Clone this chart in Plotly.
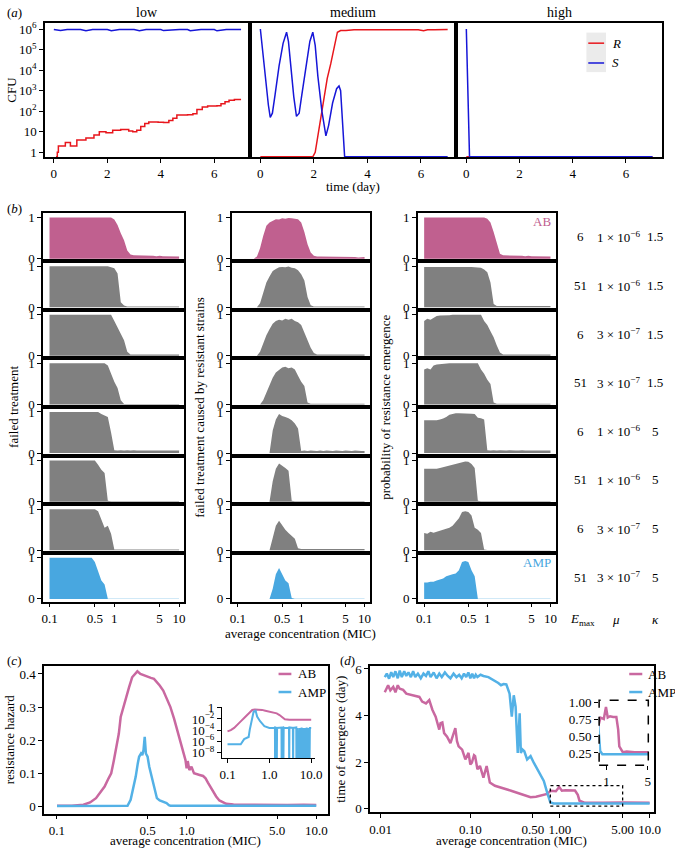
import plotly.graph_objects as go

# ============================ DATA ============================
# (a) CFU time courses, time in days (0 CFU drawn on the floor of the log axis)
LOW_R_T = [0.08, 0.13, 0.17, 0.43, 0.62, 0.86, 1.2, 1.5, 1.7, 1.95, 2.2, 2.5, 2.8, 2.95, 3.1, 3.25, 3.4, 3.55, 3.9, 4.1,
           4.3, 4.45, 4.6, 5.0, 5.2, 5.35, 5.55, 5.75, 6.1, 6.25, 6.4, 6.55, 6.75, 7.0]
LOW_R = [0, 1, 2, 3, 2, 4, 5, 7, 10, 9, 12, 13, 11, 10, 12, 18, 25, 30, 29, 28,
         35, 45, 65, 68, 75, 120, 160, 180, 185, 230, 290, 340, 370, 370]
LOW_S_T = [0, 0.25, 0.5, 0.75, 1.0, 1.2, 1.45, 1.7, 2.0, 2.15, 2.45, 2.7, 3.0, 3.2, 3.45, 3.7, 4.0, 4.1, 4.45,
           4.7, 5.0, 5.1, 5.5, 5.75, 6.0, 6.1, 6.45, 6.7, 7.0]
LOW_S = [9.5e5, 8.5e5, 9.5e5, 9.5e5, 9.5e5, 8.2e5, 9.5e5, 9.6e5, 9.5e5, 8.3e5, 9.5e5, 9.6e5, 9.4e5, 8.3e5, 9.5e5,
         9.6e5, 9.5e5, 8.4e5, 9.5e5, 9.6e5, 9.5e5, 8.3e5, 9.5e5, 9.6e5, 9.5e5, 8.2e5, 9.5e5, 9.5e5, 9.5e5]
MED_R_T = [0, 1.96, 2.05, 2.14, 2.27, 2.4, 2.5, 2.63, 2.75, 2.88, 3.0, 3.2, 3.5, 4.0, 5.0, 5.9, 6.1, 6.25, 6.5, 7.0]
MED_R = [0, 0, 1, 5, 70, 800, 4e3, 2e4, 1e5, 7e5, 8.5e5, 8.5e5, 9.3e5, 9.3e5, 9.3e5, 9.3e5, 8.3e5, 9.2e5, 9.3e5, 9.5e5]
MED_S_T = [0, 0.1, 0.2, 0.3, 0.37, 0.45, 0.55, 0.7, 0.85, 0.98, 1.05, 1.15, 1.25, 1.35, 1.45, 1.55, 1.7, 1.85,
           1.96, 2.05, 2.15, 2.3, 2.45, 2.55, 2.7, 2.85, 2.94, 3.0, 3.15, 7.0]
MED_S = [1e6, 5e4, 2.5e3, 200, 50, 80, 630, 1.6e4, 2e5, 7e5, 2.5e5, 1e4, 500, 56, 80, 630, 1.6e4, 2.5e5,
         7e5, 1.6e5, 5e3, 100, 6.3, 20, 250, 1.25e3, 1.7e3, 1e3, 0, 0]
HIGH_R_T = [0, 7.0]
HIGH_R = [0, 0]
HIGH_S_T = [0, 0.12, 7.0]
HIGH_S = [1e6, 0, 0]
CFU_TICKS = [1, 10, 100, 1e3, 1e4, 1e5, 1e6]
CFU_TICKTEXT = ["1", "10", "10<sup>2</sup>", "10<sup>3</sup>", "10<sup>4</sup>", "10<sup>5</sup>", "10<sup>6</sup>"]
DAY_TICKS = [0, 2, 4, 6]
DOSE_LEVELS = ["low", "medium", "high"]

# (b) average concentration (MIC) grid and per-scenario outcomes
CONC = [0.100, 0.112, 0.126, 0.141, 0.158, 0.178, 0.200, 0.224, 0.251, 0.282,
        0.316, 0.355, 0.398, 0.447, 0.501, 0.562, 0.631, 0.708, 0.794, 0.891,
        1.000, 1.122, 1.259, 1.413, 1.585, 1.778, 1.995, 2.239, 2.512, 2.818,
        3.162, 3.548, 3.981, 4.467, 5.012, 5.623, 6.310, 7.079, 7.943, 8.913,
        10.00]
# failed treatment
FT_1 = [1, 1, 1, 1, 1, 1, 1, 1, 1, 1, 1, 1, 1, 1, 1, 1, 1, 1, 1, 1,
        0.95, 0.82, 0.62, 0.45, 0.20, 0.10, 0.08, 0.08, 0.07, 0.08,
        0.07, 0.07, 0.07, 0.06, 0.07, 0.06, 0.06, 0.05, 0.06, 0.05, 0.05]
FT_2 = [1, 1, 1, 1, 1, 1, 1, 1, 1, 1, 1, 1, 1, 1, 1, 1, 1, 1, 1, 0.97,
        0.95, 0.82, 0.12, 0.04, 0.02, 0.02, 0.02, 0.02, 0.02, 0.02,
        0.02, 0.02, 0.02, 0.02, 0.02, 0.02, 0.02, 0.02, 0.02, 0.02, 0.02]
FT_3 = [1, 1, 1, 1, 1, 1, 1, 1, 1, 1, 1, 1, 1, 1, 1, 1, 1, 1, 1, 1,
        0.85, 0.70, 0.55, 0.38, 0.10, 0.03, 0.03, 0.03, 0.03, 0.03,
        0.03, 0.03, 0.03, 0.03, 0.03, 0.03, 0.03, 0.03, 0.03, 0.03, 0.03]
FT_4 = [1, 1, 1, 1, 1, 1, 1, 1, 1, 1, 1, 1, 1, 1, 1, 1, 1, 1, 0.95, 0.75,
        0.55, 0.40, 0.10, 0.01, 0.01, 0.01, 0.01, 0.01, 0.01, 0.01,
        0.01, 0.01, 0.01, 0.01, 0.01, 0.01, 0.01, 0.01, 0.01, 0.01, 0.01]
FT_5 = [1, 1, 1, 1, 1, 1, 1, 1, 1, 1, 1, 1, 1, 1, 1, 1, 0.95, 0.92, 0.88, 0.50,
        0.07, 0.06, 0.07, 0.06, 0.07, 0.06, 0.07, 0.06, 0.06, 0.07,
        0.06, 0.07, 0.06, 0.06, 0.07, 0.06, 0.06, 0.07, 0.06, 0.06, 0.06]
FT_6 = [1, 1, 1, 1, 1, 1, 1, 1, 1, 1, 1, 1, 1, 1, 1, 0.90, 0.78, 0.70, 0.02, 0.01,
        0.01, 0.01, 0.01, 0.01, 0.01, 0.01, 0.01, 0.01, 0.01, 0.01,
        0.01, 0.01, 0.01, 0.01, 0.01, 0.01, 0.01, 0.01, 0.01, 0.01, 0.01]
FT_7 = [1, 1, 1, 1, 1, 1, 1, 1, 1, 1, 1, 1, 1, 1, 1, 0.95, 0.75, 0.55, 0.60, 0.40,
        0.02, 0.02, 0.02, 0.02, 0.02, 0.02, 0.02, 0.02, 0.02, 0.02,
        0.02, 0.02, 0.02, 0.02, 0.02, 0.02, 0.02, 0.02, 0.02, 0.02, 0.02]
FT_8 = [1, 1, 1, 1, 1, 1, 1, 1, 1, 1, 1, 1, 1, 1, 0.90, 0.65, 0.45, 0.35, 0.005, 0.005,
        0.005, 0.005, 0.005, 0.005, 0.005, 0.005, 0.005, 0.005, 0.005, 0.005,
        0.005, 0.005, 0.005, 0.005, 0.005, 0.005, 0.005, 0.005, 0.005, 0.005, 0.005]
# failed treatment caused by resistant strains
RS_1 = [0, 0, 0, 0, 0, 0, 0.05, 0.25, 0.55, 0.80,
        0.88, 0.92, 0.96, 0.95, 0.98, 0.97, 0.99, 0.98, 0.97, 0.96,
        0.88, 0.65, 0.35, 0.15, 0.07, 0.05, 0.05, 0.05, 0.04, 0.05,
        0.04, 0.05, 0.04, 0.04, 0.05, 0.04, 0.04, 0.04, 0.03, 0.04, 0.04]
RS_2 = [0, 0, 0, 0, 0, 0, 0, 0.10, 0.35, 0.60,
        0.75, 0.88, 0.93, 0.97, 0.98, 0.97, 0.99, 0.96, 0.95, 0.90,
        0.80, 0.65, 0.25, 0.05, 0.02, 0.02, 0.02, 0.02, 0.02, 0.02,
        0.02, 0.02, 0.02, 0.02, 0.02, 0.02, 0.02, 0.02, 0.02, 0.02, 0.02]
RS_3 = [0, 0, 0, 0, 0, 0, 0, 0.10, 0.30, 0.50,
        0.65, 0.78, 0.85, 0.88, 0.86, 0.90, 0.88, 0.90, 0.85, 0.82,
        0.75, 0.55, 0.38, 0.20, 0.07, 0.03, 0.03, 0.03, 0.03, 0.03,
        0.03, 0.03, 0.03, 0.03, 0.03, 0.03, 0.03, 0.03, 0.03, 0.03, 0.03]
RS_4 = [0, 0, 0, 0, 0, 0, 0, 0, 0.10, 0.30,
        0.50, 0.65, 0.78, 0.85, 0.90, 0.92, 0.88, 0.90, 0.85, 0.70,
        0.55, 0.45, 0.05, 0.02, 0.02, 0.02, 0.02, 0.02, 0.02, 0.02,
        0.02, 0.02, 0.02, 0.02, 0.02, 0.02, 0.02, 0.02, 0.02, 0.02, 0.02]
RS_5 = [0, 0, 0, 0, 0, 0, 0, 0, 0, 0,
        0, 0.55, 0.82, 0.95, 0.90, 0.88, 0.85, 0.80, 0.72, 0.60,
        0.05, 0.06, 0.05, 0.06, 0.05, 0.05, 0.06, 0.05, 0.06, 0.05,
        0.05, 0.06, 0.05, 0.05, 0.06, 0.05, 0.05, 0.06, 0.05, 0.05, 0.05]
RS_6 = [0, 0, 0, 0, 0, 0, 0, 0, 0, 0,
        0, 0.50, 0.80, 0.93, 0.88, 0.82, 0.75, 0.02, 0.01, 0.01,
        0.01, 0.01, 0.01, 0.01, 0.01, 0.01, 0.01, 0.01, 0.01, 0.01,
        0.01, 0.01, 0.01, 0.01, 0.01, 0.01, 0.01, 0.01, 0.01, 0.01, 0.01]
RS_7 = [0, 0, 0, 0, 0, 0, 0, 0, 0, 0,
        0, 0.30, 0.60, 0.72, 0.60, 0.50, 0.42, 0.35, 0.28, 0.05,
        0.03, 0.03, 0.03, 0.03, 0.03, 0.03, 0.03, 0.03, 0.03, 0.03,
        0.03, 0.03, 0.03, 0.03, 0.03, 0.03, 0.03, 0.03, 0.03, 0.03, 0.03]
RS_8 = [0, 0, 0, 0, 0, 0, 0, 0, 0, 0,
        0, 0.25, 0.60, 0.75, 0.60, 0.45, 0.38, 0.02, 0.005, 0.005,
        0.005, 0.005, 0.005, 0.005, 0.005, 0.005, 0.005, 0.005, 0.005, 0.005,
        0.005, 0.005, 0.005, 0.005, 0.005, 0.005, 0.005, 0.005, 0.005, 0.005, 0.005]
# probability of resistance emergence
PE_1 = [1, 1, 1, 1, 1, 1, 1, 1, 1, 1, 1, 1, 1, 1, 1, 1, 1, 1, 1, 1,
        0.97, 0.88, 0.65, 0.40, 0.12, 0.08, 0.08, 0.07, 0.08, 0.07,
        0.07, 0.07, 0.06, 0.07, 0.06, 0.06, 0.06, 0.05, 0.06, 0.05, 0.05]
PE_2 = [0.98, 0.98, 0.99, 0.98, 0.98, 0.99, 0.98, 0.98, 0.99, 0.98,
        0.98, 0.99, 0.98, 0.98, 0.99, 0.98, 0.97, 0.97, 0.96, 0.92,
        0.85, 0.60, 0.08, 0.03, 0.03, 0.03, 0.03, 0.03, 0.03, 0.03,
        0.03, 0.03, 0.03, 0.03, 0.03, 0.03, 0.03, 0.03, 0.03, 0.03, 0.03]
PE_3 = [0.85, 0.90, 0.88, 0.92, 0.97, 0.98, 0.98, 0.99, 0.99, 1.0,
        1.0, 1.0, 1.0, 1.0, 1.0, 1.0, 1.0, 1.0, 1.0, 0.85,
        0.75, 0.60, 0.45, 0.25, 0.08, 0.03, 0.03, 0.03, 0.03, 0.03,
        0.03, 0.03, 0.03, 0.03, 0.03, 0.03, 0.03, 0.03, 0.03, 0.03, 0.03]
PE_4 = [0.85, 0.88, 0.85, 0.95, 0.97, 0.98, 0.99, 0.99, 1.0, 1.0,
        1.0, 1.0, 1.0, 1.0, 1.0, 1.0, 1.0, 1.0, 0.85, 0.75,
        0.60, 0.50, 0.05, 0.02, 0.02, 0.02, 0.02, 0.02, 0.02, 0.02,
        0.02, 0.02, 0.02, 0.02, 0.02, 0.02, 0.02, 0.02, 0.02, 0.02, 0.02]
PE_5 = [0.80, 0.80, 0.81, 0.80, 0.80, 0.82, 0.84, 0.88, 0.93, 0.95,
        0.97, 0.97, 0.97, 0.97, 0.97, 0.96, 0.95, 0.86, 0.85, 0.82,
        0.07, 0.06, 0.07, 0.06, 0.07, 0.06, 0.06, 0.07, 0.06, 0.06,
        0.06, 0.07, 0.06, 0.06, 0.06, 0.07, 0.06, 0.06, 0.07, 0.06, 0.06]
PE_6 = [0.80, 0.80, 0.81, 0.80, 0.80, 0.82, 0.84, 0.86, 0.88, 0.90,
        0.93, 0.95, 0.97, 0.98, 0.97, 0.92, 0.82, 0.02, 0.01, 0.01,
        0.01, 0.01, 0.01, 0.01, 0.01, 0.01, 0.01, 0.01, 0.01, 0.01,
        0.01, 0.01, 0.01, 0.01, 0.01, 0.01, 0.01, 0.01, 0.01, 0.01, 0.01]
PE_7 = [0.42, 0.40, 0.45, 0.43, 0.45, 0.48, 0.50, 0.52, 0.55, 0.60,
        0.70, 0.78, 0.93, 0.95, 0.93, 0.85, 0.55, 0.50, 0.42, 0.02,
        0.01, 0.01, 0.01, 0.01, 0.01, 0.01, 0.01, 0.01, 0.01, 0.01,
        0.01, 0.01, 0.01, 0.01, 0.01, 0.01, 0.01, 0.01, 0.01, 0.01, 0.01]
PE_8 = [0.40, 0.40, 0.42, 0.42, 0.45, 0.48, 0.50, 0.55, 0.58, 0.60,
        0.62, 0.70, 0.90, 0.92, 0.90, 0.70, 0.55, 0.005, 0.005, 0.005,
        0.005, 0.005, 0.005, 0.005, 0.005, 0.005, 0.005, 0.005, 0.005, 0.005,
        0.005, 0.005, 0.005, 0.005, 0.005, 0.005, 0.005, 0.005, 0.005, 0.005, 0.005]
FT_ROWS = [FT_1, FT_2, FT_3, FT_4, FT_5, FT_6, FT_7, FT_8]
RS_ROWS = [RS_1, RS_2, RS_3, RS_4, RS_5, RS_6, RS_7, RS_8]
PE_ROWS = [PE_1, PE_2, PE_3, PE_4, PE_5, PE_6, PE_7, PE_8]
B_YTITLES = ["failed treatment", "failed treatment caused by resistant strains", "probability of resistance emergence"]
E_MAX = ["6", "51", "6", "51", "6", "51", "6", "51"]
MU = ["1 × 10<sup>−6</sup>", "1 × 10<sup>−6</sup>", "3 × 10<sup>−7</sup>", "3 × 10<sup>−7</sup>",
      "1 × 10<sup>−6</sup>", "1 × 10<sup>−6</sup>", "3 × 10<sup>−7</sup>", "3 × 10<sup>−7</sup>"]
KAPPA = ["1.5", "1.5", "1.5", "1.5", "5", "5", "5", "5"]
B_XTICKS = [0.1, 0.5, 1, 5, 10]
B_XTICKTEXT = ["0.1", "0.5", "1", "5", "10"]

# (c) resistance hazard
C_AB_X = [0.1, 0.13, 0.16, 0.18, 0.2, 0.22, 0.233, 0.25, 0.262, 0.275, 0.285, 0.3, 0.31, 0.33, 0.345, 0.36, 0.38,
          0.4, 0.417, 0.44, 0.47, 0.5, 0.53, 0.56, 0.59, 0.62, 0.66, 0.7, 0.75, 0.8, 0.84, 0.9, 0.94, 0.98, 1.0,
          1.02, 1.05, 1.09, 1.14, 1.19, 1.26, 1.34, 1.4, 1.46, 1.52, 1.59, 1.69, 1.79, 1.9, 2.02, 2.3, 3.0, 4.0,
          5.0, 6.0, 8.0, 10.0]
C_AB_Y = [0.002, 0.002, 0.005, 0.012, 0.025, 0.045, 0.06, 0.085, 0.1, 0.14, 0.17, 0.22, 0.27, 0.31, 0.33, 0.36,
          0.39, 0.4, 0.408, 0.4, 0.395, 0.39, 0.388, 0.385, 0.375, 0.365, 0.35, 0.325, 0.3, 0.265, 0.235, 0.2,
          0.17, 0.14, 0.115, 0.137, 0.11, 0.12, 0.1, 0.097, 0.095, 0.092, 0.085, 0.072, 0.06, 0.045, 0.03, 0.018,
          0.012, 0.008, 0.006, 0.005, 0.005, 0.005, 0.004, 0.005, 0.004]
C_AMP_X = [0.1, 0.2, 0.3, 0.35, 0.37, 0.39, 0.405, 0.42, 0.43, 0.445, 0.455, 0.465, 0.475, 0.485, 0.5, 0.515,
           0.53, 0.545, 0.56, 0.575, 0.59, 0.62, 0.66, 0.7, 0.73, 0.75, 1.0, 2.0, 5.0, 10.0]
C_AMP_Y = [0.001, 0.001, 0.001, 0.002, 0.02, 0.06, 0.09, 0.13, 0.15, 0.16, 0.155, 0.17, 0.21, 0.16, 0.15, 0.12,
           0.1, 0.08, 0.06, 0.04, 0.025, 0.018, 0.015, 0.01, 0.004, 0.002, 0.002, 0.002, 0.002, 0.002]
C_INSET_AB_X = [0.1, 0.12, 0.144, 0.17, 0.207, 0.25, 0.295, 0.34, 0.39, 0.45, 0.51, 0.6, 0.67, 0.8, 1.05, 1.25,
                1.5, 1.75, 1.97, 2.35, 3.0, 4.0, 5.0, 7.0, 10.0]
C_INSET_AB_Y = [6e-5, 1e-4, 2.5e-4, 1e-3, 3.7e-3, 1.5e-2, 5.4e-2, 0.16, 0.4, 0.5, 0.5, 0.47, 0.42, 0.3, 0.2,
                0.15, 0.1, 0.05, 0.027, 9e-3, 7e-3, 7e-3, 6.3e-3, 7e-3, 7e-3]
C_INSET_AMP_X = [0.1, 0.15, 0.207, 0.25, 0.295, 0.32, 0.34, 0.39, 0.42, 0.47, 0.51, 0.6, 0.76, 1.0, 1.3, 1.36,
                 1.37, 1.39, 1.48, 1.5, 1.53, 1.95, 1.97, 2.0, 2.14, 2.16, 2.2, 2.95, 2.98, 3.02, 3.65, 3.7, 3.75,
                 4.4, 4.44, 4.5, 4.7, 4.8, 5.3, 5.4, 5.8, 5.9, 6.38, 6.5, 7.0, 7.1, 7.6, 7.8, 8.3, 8.4, 9.1, 9.3, 10.0]
C_INSET_AMP_Y = [3e-7, 3e-7, 3e-7, 2.5e-6, 5e-6, 6e-6, 1.2e-4, 8e-3, 0.2, 0.3, 0.027, 4e-3, 5e-4, 2.5e-4, 3e-4,
                 2.5e-4, 0, 3e-4, 2.5e-4, 0, 2.5e-4, 3e-4, 0, 2.5e-4, 3e-4, 0, 2.5e-4, 2.5e-4, 0, 3e-4, 2.5e-4, 0,
                 2.5e-4, 3e-4, 0, 2.5e-4, 0, 2.5e-4, 0, 2.5e-4, 0, 3e-4, 0, 2.5e-4, 0, 2.5e-4, 0, 3e-4, 0, 2.5e-4,
                 0, 2.5e-4, 2.5e-4]
C_XTICKS = [0.1, 0.5, 1, 5, 10]
C_XTICKTEXT = ["0.1", "0.5", "1.0", "5.0", "10.0"]
C_YTICKS = [0, 0.1, 0.2, 0.3, 0.4]
C_YTICKTEXT = ["0", "0.1", "0.2", "0.3", "0.4"]
C_INSET_YTICKS = [1, 1e-2, 1e-4, 1e-6, 1e-8]
C_INSET_YTICKTEXT = ["1", "10<sup>−2</sup>", "10<sup>−4</sup>", "10<sup>−6</sup>", "10<sup>−8</sup>"]

# (d) time of emergence (day)
D_AB_X = [0.0111, 0.0121, 0.0128, 0.0138, 0.0146, 0.0155, 0.0163, 0.0178, 0.0193, 0.021, 0.0228, 0.025, 0.027,
          0.029, 0.032, 0.0348, 0.0378, 0.041, 0.045, 0.0465, 0.0487, 0.051, 0.055, 0.06, 0.065, 0.068, 0.071,
          0.074, 0.081, 0.088, 0.0954, 0.1, 0.104, 0.11, 0.113, 0.12, 0.128, 0.14, 0.152, 0.165, 0.188, 0.22,
          0.25, 0.285, 0.366, 0.42, 0.47, 0.54, 0.61, 0.72, 0.79, 0.9, 0.98, 1.05, 1.15, 1.3, 1.47, 1.58, 1.65,
          1.9, 2.2, 3.0, 5.0, 7.0, 10.0]
D_AB_Y = [5.0, 5.3, 5.08, 5.23, 5.0, 5.3, 5.15, 5.1, 4.94, 4.9, 4.87, 4.85, 4.8, 4.6, 4.52, 4.66, 4.24, 3.95,
          3.4, 3.67, 3.7, 3.25, 3.1, 2.82, 3.2, 3.46, 2.9, 2.68, 2.54, 2.12, 2.4, 1.9, 1.98, 2.3, 2.26, 1.7, 1.84,
          1.34, 1.84, 1.13, 0.99, 0.92, 0.85, 0.78, 0.64, 0.55, 0.5, 0.52, 0.56, 0.64, 0.78, 0.76, 0.94, 0.78,
          0.8, 0.79, 0.79, 0.6, 0.35, 0.26, 0.27, 0.26, 0.27, 0.26, 0.26]
D_AMP_X = [0.0111, 0.0117, 0.0124, 0.0131, 0.0138, 0.0146, 0.0155, 0.0163, 0.0172, 0.0183, 0.0193, 0.0204,
           0.0217, 0.023, 0.0243, 0.026, 0.028, 0.03, 0.032, 0.034, 0.036, 0.039, 0.042, 0.045, 0.048, 0.052,
           0.056, 0.06, 0.065, 0.07, 0.075, 0.08, 0.085, 0.09, 0.095, 0.1, 0.105, 0.11, 0.115, 0.12, 0.13, 0.14,
           0.159, 0.175, 0.19, 0.205, 0.22, 0.235, 0.252, 0.274, 0.29, 0.305, 0.32, 0.338, 0.355, 0.366, 0.38,
           0.4, 0.43, 0.47, 0.51, 0.56, 0.61, 0.66, 0.72, 0.78, 0.85, 1.0, 2.0, 5.0, 10.0]
D_AMP_Y = [5.65, 5.8, 5.58, 5.86, 5.65, 5.9, 5.6, 5.93, 5.65, 5.9, 5.7, 5.85, 5.65, 5.9, 5.65, 5.8, 5.6, 5.8,
           5.7, 5.9, 5.65, 5.85, 5.6, 5.8, 5.65, 5.85, 5.7, 5.6, 5.8, 5.65, 5.75, 5.6, 5.8, 5.65, 5.85, 5.6, 5.8,
           5.6, 5.75, 5.65, 5.75, 5.7, 5.65, 5.55, 5.5, 5.4, 5.3, 5.35, 5.34, 4.94, 3.95, 4.87, 4.38, 2.4, 4.1,
           2.4, 2.55, 2.47, 2.12, 2.26, 1.98, 1.7, 1.41, 1.2, 0.7, 0.28, 0.23, 0.23, 0.22, 0.23, 0.23]
D_BOX_X = [0.78, 5.0]
D_BOX_Y = [0.12, 1.0]
D_XTICKS = [0.01, 0.1, 0.5, 1, 5, 10]
D_XTICKTEXT = ["0.01", "0.10", "0.50", "1.00", "5.00", "10.0"]
D_YTICKS = [0, 2, 4, 6]
D_INSET_XTICKS = [1, 5]
D_INSET_YTICKS = [0.25, 0.5, 0.75, 1.0]
D_INSET_YTICKTEXT = ["0.25", "0.50", "0.75", "1.00"]

# ============================ STYLE / LAYOUT ============================
W, H = 675, 852
SERIF = "Liberation Serif"
RED, BLUE = "#e8161c", "#1616d8"
PINK_B, GREY_B, BLUE_B = "#c0608f", "#808080", "#48a7e0"
PINK_L, BLUE_L = "#c968a0", "#53b1e6"
CFU_FLOOR = 0.6
HAZ_FLOOR = 1e-12


def X(p):
    return p / W


def Y(p):
    return 1 - p / H


TICKFONT = dict(family=SERIF, size=13, color="black")
layout_axes, annotations, shapes, traces = {}, [], [], []
_n = [0]


def axes(xpx, ypx, xa, ya):
    _n[0] += 1
    s = "" if _n[0] == 1 else str(_n[0])
    xa = dict(xa)
    ya = dict(ya)
    xa.update(domain=[X(xpx[0]), X(xpx[1])], anchor="y" + s)
    ya.update(domain=[Y(ypx[1]), Y(ypx[0])], anchor="x" + s)
    layout_axes["xaxis" + s] = xa
    layout_axes["yaxis" + s] = ya
    return "x" + s, "y" + s


def style(**kw):
    d = dict(showline=True, linecolor="black", linewidth=1.5, mirror=True, ticks="outside", ticklen=4,
             tickwidth=1, tickcolor="black", showgrid=False, zeroline=False, tickfont=TICKFONT)
    d.update(kw)
    return d


NOTICK = dict(ticks="", showticklabels=False)


def txt(text, x, y, size=13, xanchor="center", yanchor="middle", angle=0, color="black", xref="paper",
        yref="paper"):
    annotations.append(dict(text=text, x=x, y=y, xref=xref, yref=yref, showarrow=False, xanchor=xanchor,
                            yanchor=yanchor, textangle=angle,
                            font=dict(family=SERIF, size=size, color=color)))


def floor(vals, f):
    return [v if v > 0 else f for v in vals]


# ---------------- (a) ----------------
A_X_PX = [(42.7, 250.7), (251, 461), (461, 670)]
A_Y_PX = (17.3, 153)
A_XRANGES = [[-0.33, 7.32], [-0.39, 7.33], [-0.37, 7.36]]
A_SERIES = [(LOW_R_T, LOW_R, LOW_S_T, LOW_S), (MED_R_T, MED_R, MED_S_T, MED_S),
            (HIGH_R_T, HIGH_R, HIGH_S_T, HIGH_S)]
a_refs = []
for i in range(3):
    if i == 0:
        ya = style(type="log", range=[-0.23, 6.29], tickvals=CFU_TICKS, ticktext=CFU_TICKTEXT)
    else:
        ya = style(type="log", range=[-0.23, 6.29], **NOTICK)
    xa = style(range=A_XRANGES[i], tickvals=DAY_TICKS)
    xr, yr = axes(A_X_PX[i], A_Y_PX, xa, ya)
    a_refs.append((xr, yr))
    rt, r, st, s = A_SERIES[i]
    traces.append(go.Scatter(x=rt, y=floor(r, CFU_FLOOR), mode="lines", xaxis=xr, yaxis=yr,
                             line=dict(color=RED, width=1.5, shape="hv" if i == 0 else "linear")))
    traces.append(go.Scatter(x=st, y=floor(s, CFU_FLOOR), mode="lines", xaxis=xr, yaxis=yr,
                             line=dict(color=BLUE, width=1.5)))
    txt(DOSE_LEVELS[i], X((A_X_PX[i][0] + A_X_PX[i][1]) / 2), Y(7), size=14)

txt("(<i>a</i>)", X(2), Y(7), xanchor="left")
txt("CFU", X(9), Y(85), angle=-90)
txt("time (day)", X(356), Y(183))
# legend of (a)
xh, yh = a_refs[2]
shapes.append(dict(type="rect", xref=xh + " domain", yref=yh + " domain", x0=0.632, x1=0.727, y0=0.634,
                   y1=0.929, fillcolor="#ebebeb", line=dict(width=0), layer="below"))
for lbl, col, yy in [("<i>R</i>", RED, 0.85), ("<i>S</i>", BLUE, 0.702)]:
    shapes.append(dict(type="line", xref=xh + " domain", yref=yh + " domain", x0=0.641, x1=0.718, y0=yy, y1=yy,
                       line=dict(color=col, width=1.5)))
    txt(lbl, 0.745, yy, xanchor="left", xref=xh + " domain", yref=yh + " domain")

# ---------------- (b) ----------------
B_COL_PX = [(40.7, 184.3), (232.3, 372.7), (421.7, 561.7)]
B_TOP, B_ROW_H = 209.3, 49.25
B_COLS = [FT_ROWS, RS_ROWS, PE_ROWS]
for c in range(3):
    for r in range(8):
        y0 = B_TOP + r * B_ROW_H
        if r == 7:
            xa = style(type="log", range=[-1.1, 1.08], tickvals=B_XTICKS, ticktext=B_XTICKTEXT)
        else:
            xa = style(type="log", range=[-1.1, 1.08], **NOTICK)
        ya = style(range=[-0.063, 1.12], tickvals=[0, 1], ticktext=["0", "1"])
        xr, yr = axes(B_COL_PX[c], (y0, y0 + B_ROW_H), xa, ya)
        col = PINK_B if r == 0 else (BLUE_B if r == 7 else GREY_B)
        traces.append(go.Scatter(x=CONC, y=B_COLS[c][r], mode="lines", xaxis=xr, yaxis=yr, fill="tozeroy",
                                 fillcolor=col, line=dict(width=0, shape="linear", color=col)))

for r in range(8):
    yc = Y(B_TOP + (r + 0.5) * B_ROW_H)
    txt(E_MAX[r], X(586.7), yc)
    txt(MU[r], X(626), yc)
    txt(KAPPA[r], X(663), yc)
txt("<i>E</i><sub>max</sub>", X(589), Y(621.7))
txt("<i>μ</i>", X(623.3), Y(621.7))
txt("<i>κ</i>", X(663.3), Y(621.7))
txt("AB", X(559), Y(B_TOP + 9), color=PINK_B, xanchor="right")
txt("AMP", X(559), Y(B_TOP + 7 * B_ROW_H + 10), color=BLUE_B, xanchor="right")
txt("(<i>b</i>)", X(2), Y(205), xanchor="left")
B_TITLE_X = [10, 199, 388]
for c in range(3):
    txt(B_YTITLES[c], X(B_TITLE_X[c]), Y(B_TOP + 4 * B_ROW_H), angle=-90)
txt("average concentration (MIC)", X(302), Y(636))

# ---------------- (c) ----------------
xc, yc_ = axes((41.7, 330.7), (668.3, 818.3),
               style(type="log", range=[-1.1, 1.093], tickvals=C_XTICKS, ticktext=C_XTICKTEXT),
               style(range=[-0.022, 0.425], tickvals=C_YTICKS, ticktext=C_YTICKTEXT))
traces.append(go.Scatter(x=C_AB_X, y=C_AB_Y, mode="lines", xaxis=xc, yaxis=yc_,
                         line=dict(color=PINK_L, width=2.5)))
traces.append(go.Scatter(x=C_AMP_X, y=C_AMP_Y, mode="lines", xaxis=xc, yaxis=yc_,
                         line=dict(color=BLUE_L, width=2.5)))
xci, yci = axes((222.7, 316.7), (710, 762),
                style(type="log", range=[-1.13, 1.08], mirror=False, linewidth=1.2, tickvals=[0.1, 1, 10],
                      ticktext=["0.1", "1.0", "10.0"]),
                style(type="log", range=[-9.0, 0.17], mirror=False, linewidth=1.2, tickvals=C_INSET_YTICKS,
                      ticktext=C_INSET_YTICKTEXT))
traces.append(go.Scatter(x=C_INSET_AB_X, y=C_INSET_AB_Y, mode="lines", xaxis=xci, yaxis=yci,
                         line=dict(color=PINK_L, width=2)))
traces.append(go.Scatter(x=C_INSET_AMP_X, y=floor(C_INSET_AMP_Y, HAZ_FLOOR), mode="lines", xaxis=xci,
                         yaxis=yci, line=dict(color=BLUE_L, width=2)))
for lbl, col, yy in [("AB", PINK_L, 0.944), ("AMP", BLUE_L, 0.822)]:
    shapes.append(dict(type="line", xref=xc + " domain", yref=yc_ + " domain", x0=0.825, x1=0.87, y0=yy, y1=yy,
                       line=dict(color=col, width=2.5)))
    txt(lbl, 0.885, yy, xanchor="left", xref=xc + " domain", yref=yc_ + " domain")
txt("(<i>c</i>)", X(2), Y(663), xanchor="left")
txt("resistance hazard", X(7), Y(743), angle=-90)
txt("average concentration (MIC)", X(186), Y(845))

# ---------------- (d) ----------------
xd, yd = axes((373.3, 661.7), (668.3, 816.7),
              style(type="log", range=[-2.117, 1.048], tickvals=D_XTICKS, ticktext=D_XTICKTEXT),
              style(range=[-0.14, 6.14], tickvals=D_YTICKS))
traces.append(go.Scatter(x=D_AB_X, y=D_AB_Y, mode="lines", xaxis=xd, yaxis=yd,
                         line=dict(color=PINK_L, width=2.5)))
traces.append(go.Scatter(x=D_AMP_X, y=D_AMP_Y, mode="lines", xaxis=xd, yaxis=yd,
                         line=dict(color=BLUE_L, width=2.5)))
traces.append(go.Scatter(x=[D_BOX_X[0], D_BOX_X[1], D_BOX_X[1], D_BOX_X[0], D_BOX_X[0]],
                         y=[D_BOX_Y[0], D_BOX_Y[0], D_BOX_Y[1], D_BOX_Y[1], D_BOX_Y[0]], mode="lines",
                         xaxis=xd, yaxis=yd, line=dict(color="black", width=1.3, dash="dot")))
xdi, ydi = axes((606, 656), (703.3, 769.3),
                style(type="log", range=[-0.125, 0.71], showline=False, tickvals=D_INSET_XTICKS,
                      ticktext=["1", "5"]),
                style(range=[0.064, 1.04], showline=False, tickvals=D_INSET_YTICKS,
                      ticktext=D_INSET_YTICKTEXT))
traces.append(go.Scatter(x=D_AB_X, y=D_AB_Y, mode="lines", xaxis=xdi, yaxis=ydi,
                         line=dict(color=PINK_L, width=2.5)))
traces.append(go.Scatter(x=D_AMP_X, y=D_AMP_Y, mode="lines", xaxis=xdi, yaxis=ydi,
                         line=dict(color=BLUE_L, width=2.5)))
shapes.append(dict(type="rect", xref=xdi + " domain", yref=ydi + " domain", x0=0, x1=1, y0=0, y1=1,
                   line=dict(color="black", width=1.5, dash="dash")))
for lbl, col, yy in [("AB", PINK_L, 0.943), ("AMP", BLUE_L, 0.82)]:
    shapes.append(dict(type="line", xref=xd + " domain", yref=yd + " domain", x0=0.913, x1=0.959, y0=yy, y1=yy,
                       line=dict(color=col, width=2.5)))
    txt(lbl, 0.972, yy, xanchor="left", xref=xd + " domain", yref=yd + " domain")
txt("(<i>d</i>)", X(341), Y(663), xanchor="left")
txt("time of emergence (day)", X(343), Y(743), angle=-90)
txt("average concentration (MIC)", X(517), Y(845))

fig = go.Figure(data=traces)
fig.update_layout(width=W, height=H, margin=dict(l=0, r=0, t=0, b=0), paper_bgcolor="white",
                  plot_bgcolor="rgba(0,0,0,0)", showlegend=False, font=dict(family=SERIF, size=13, color="black"),
                  annotations=annotations, shapes=shapes, **layout_axes)
fig.write_html("out.html", config={"displayModeBar": False},
               post_script="document.body.style.margin='0';document.body.style.overflow='hidden';")
